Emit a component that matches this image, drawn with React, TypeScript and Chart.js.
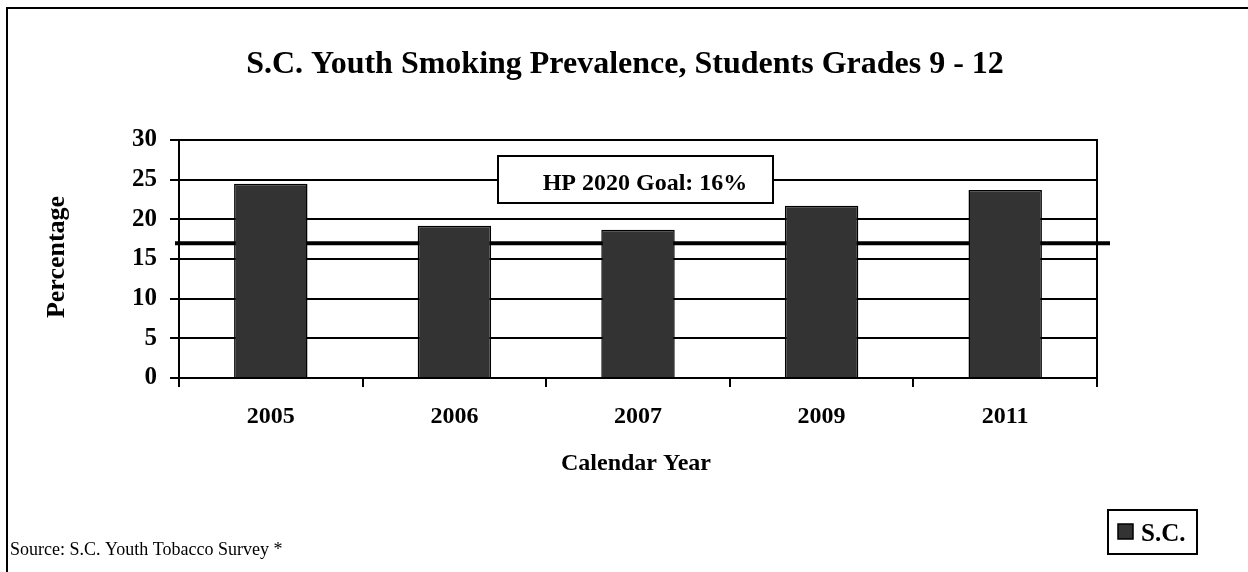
import React, { useEffect, useRef } from "react";
import { Chart, registerables } from "chart.js";

Chart.register(...registerables);

const categories = ["2005", "2006", "2007", "2009", "2011"];
const seriesLabel = "S.C.";
const scValues = [24.5, 19.2, 18.7, 21.7, 23.7];
const yMin = 0;
const yMax = 30;
const yStep = 5;
const goalLineValue = 17;
const goalLabel = "HP 2020 Goal: 16%";
const chartTitle = "S.C. Youth Smoking Prevalence, Students Grades 9 - 12";
const xTitle = "Calendar Year";
const yTitle = "Percentage";
const sourceText = "Source: S.C. Youth Tobacco Survey *";

const SERIF = "'Liberation Serif', 'Times New Roman', serif";

const decorPlugin = {
  id: "decor",
  beforeDatasetsDraw(chart: any) {
    const { ctx, chartArea, scales } = chart;
    const y = scales.y.getPixelForValue(goalLineValue);
    ctx.save();
    ctx.strokeStyle = "#000";
    ctx.lineWidth = 4;
    ctx.beginPath();
    ctx.moveTo(chartArea.left - 4, y);
    ctx.lineTo(chartArea.right + 13, y);
    ctx.stroke();
    ctx.restore();
  },
  afterDraw(chart: any) {
    const { ctx, chartArea } = chart;
    ctx.save();
    // frame
    ctx.strokeStyle = "#000";
    ctx.lineWidth = 2;
    ctx.beginPath();
    ctx.moveTo(7, 2000);
    ctx.lineTo(7, 8);
    ctx.lineTo(2000, 8);
    ctx.stroke();
    // right plot border
    ctx.lineWidth = 2;
    ctx.beginPath();
    ctx.moveTo(chartArea.right, chartArea.top - 1);
    ctx.lineTo(chartArea.right, chartArea.bottom);
    ctx.stroke();
    // title
    ctx.fillStyle = "#000";
    ctx.textAlign = "center";
    ctx.textBaseline = "alphabetic";
    ctx.font = `bold 32px ${SERIF}`;
    ctx.fillText(chartTitle, 625, 73);
    // x title
    ctx.font = `bold 24px ${SERIF}`;
    ctx.fillText(xTitle, 636, 470);
    // y title
    ctx.save();
    ctx.translate(64, 257);
    ctx.rotate(-Math.PI / 2);
    ctx.font = `bold 26px ${SERIF}`;
    ctx.fillText(yTitle, 0, 0);
    ctx.restore();
    // goal label box
    const bx = 498, by = 156, bw = 275, bh = 47;
    ctx.fillStyle = "#fff";
    ctx.fillRect(bx, by, bw, bh);
    ctx.lineWidth = 2;
    ctx.strokeRect(bx, by, bw, bh);
    ctx.fillStyle = "#000";
    ctx.font = `bold 24px ${SERIF}`;
    ctx.textAlign = "center";
    ctx.fillText(goalLabel, 645, 190);
    // source
    ctx.textAlign = "left";
    ctx.font = `18px ${SERIF}`;
    ctx.fillText(sourceText, 10, 555);
    // legend
    const lx = 1108, ly = 510, lw = 89, lh = 44;
    ctx.fillStyle = "#fff";
    ctx.fillRect(lx, ly, lw, lh);
    ctx.strokeRect(lx, ly, lw, lh);
    ctx.fillStyle = "#333333";
    ctx.fillRect(1118, 524, 15, 15);
    ctx.lineWidth = 1.5;
    ctx.strokeRect(1118, 524, 15, 15);
    ctx.fillStyle = "#000";
    ctx.font = `bold 25px ${SERIF}`;
    ctx.fillText(chart.data.datasets[0].label, 1141, 541);
    ctx.restore();
  },
};

export default function App() {
  const ref = useRef<HTMLCanvasElement>(null);
  useEffect(() => {
    if (!ref.current) return;
    const chart = new Chart(ref.current, {
      type: "bar",
      data: {
        labels: categories,
        datasets: [
          {
            label: seriesLabel,
            data: scValues,
            backgroundColor: "#333333",
            borderColor: "#000",
            borderWidth: 1.5,
            categoryPercentage: 1,
            barPercentage: 0.4,
          },
        ],
      },
      options: {
        animation: false,
        responsive: false,
        layout: { padding: { top: 140, right: 151, left: 0, bottom: 0 } },
        plugins: { legend: { display: false }, title: { display: false }, tooltip: { enabled: false } },
        scales: {
          x: {
            afterFit: (s: any) => { s.height = 194; },
            grid: { offset: true, drawOnChartArea: false, drawTicks: true, tickLength: 9, color: "#000", lineWidth: 2 },
            border: { display: true, color: "#000", width: 2 },
            ticks: { color: "#000", padding: 15, font: { family: SERIF, size: 24, weight: "bold" } },
          },
          y: {
            min: yMin,
            max: yMax,
            afterFit: (s: any) => { s.width = 179; },
            grid: { color: "#000", lineWidth: 2, tickLength: 9 },
            border: { display: true, color: "#000", width: 2 },
            ticks: { stepSize: yStep, color: "#000", padding: 13, font: { family: SERIF, size: 25, weight: "bold" } },
          },
        },
      },
      plugins: [decorPlugin],
    });
    return () => chart.destroy();
  }, []);
  return (
    <div style={{ position: "fixed", left: 0, top: 0, width: 1248, height: 572, background: "#fff" }}>
      <canvas ref={ref} width={1248} height={572} style={{ width: 1248, height: 572, display: "block" }} />
    </div>
  );
}
